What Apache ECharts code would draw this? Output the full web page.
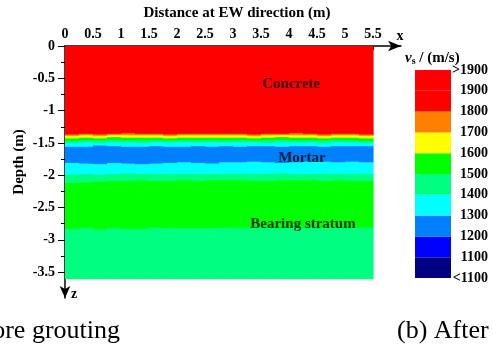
<!DOCTYPE html>
<html>
<head>
<meta charset="utf-8">
<script src="https://cdn.jsdelivr.net/npm/echarts@6/dist/echarts.min.js"></script>
<style>
  html, body { margin: 0; padding: 0; background: #fff; }
  #chart { width: 493px; height: 348px; }
</style>
</head>
<body>
<div id="chart"></div>
<script>
// column edges along EW direction (m)
const xEdges = [0, 0.25, 0.5, 0.75, 1, 1.25, 1.5, 1.75, 2, 2.25, 2.5, 2.75, 3, 3.25, 3.5, 3.75, 4, 4.25, 4.5, 4.75, 5, 5.25, 5.5];

// contour boundary depths (m) for each column, top to bottom
const b1  = [1.37,1.36,1.37,1.36,1.35,1.36,1.36,1.37,1.36,1.36,1.36,1.36,1.36,1.37,1.36,1.36,1.35,1.36,1.37,1.36,1.36,1.37];
const b2  = [1.39,1.38,1.39,1.38,1.38,1.38,1.38,1.39,1.38,1.38,1.38,1.38,1.38,1.39,1.38,1.38,1.38,1.38,1.39,1.38,1.38,1.39];
const b3  = [1.43,1.42,1.43,1.41,1.42,1.42,1.42,1.43,1.42,1.42,1.42,1.42,1.42,1.43,1.42,1.41,1.42,1.42,1.43,1.42,1.42,1.43];
const b4  = [1.47,1.46,1.46,1.45,1.46,1.46,1.45,1.46,1.45,1.46,1.45,1.46,1.45,1.46,1.46,1.45,1.46,1.46,1.46,1.45,1.46,1.47];
const b5  = [1.50,1.49,1.50,1.49,1.49,1.50,1.49,1.49,1.49,1.49,1.49,1.49,1.49,1.49,1.50,1.49,1.49,1.49,1.50,1.49,1.49,1.50];
const b6  = [1.56,1.56,1.54,1.55,1.56,1.56,1.55,1.56,1.56,1.55,1.56,1.55,1.56,1.55,1.55,1.56,1.55,1.55,1.56,1.55,1.55,1.55];
const b7  = [1.81,1.82,1.83,1.81,1.82,1.83,1.82,1.81,1.80,1.81,1.82,1.80,1.80,1.79,1.80,1.81,1.80,1.79,1.79,1.80,1.79,1.80];
const b8  = [1.99,1.98,1.99,1.98,1.97,1.98,1.98,1.98,1.98,1.98,1.98,1.98,1.98,1.98,1.98,1.97,1.98,1.98,1.98,1.98,1.98,1.98];
const b9  = [2.12,2.11,2.10,2.09,2.09,2.08,2.09,2.09,2.08,2.09,2.08,2.08,2.08,2.09,2.09,2.08,2.08,2.08,2.09,2.08,2.09,2.09];
const b10 = [2.83,2.82,2.84,2.82,2.83,2.83,2.81,2.82,2.82,2.82,2.82,2.81,2.81,2.82,2.82,2.82,2.81,2.81,2.82,2.81,2.81,2.81];
const surfaceDepth = 0;
const bottomDepth = 3.6;

// velocity class of each layer, top to bottom (index into legendColors)
const layerLevels = [9, 7, 6, 5, 4, 3, 2, 3, 4, 5, 4];

// colour bar, bottom to top
const legendColors = ['#000080', '#0000FF', '#0080FF', '#00FFFF', '#00FF80', '#00FF00', '#FFFF00', '#FF8000', '#FF0000', '#FF0000'];
const legendLabels = ['<1100', '1100', '1200', '1300', '1400', '1500', '1600', '1700', '1800', '1900', '>1900'];

const xTicks = [0, 0.5, 1, 1.5, 2, 2.5, 3, 3.5, 4, 4.5, 5, 5.5];
const yTicks = [0, -0.5, -1, -1.5, -2, -2.5, -3, -3.5];
const yMinorTicks = [-0.25, -0.75, -1.25, -1.75, -2.25, -2.75, -3.25];

const annoNames = ['Concrete', 'Mortar', 'Bearing stratum'];
const annoX = [4.04, 4.23, 4.25];
const annoDepth = [-0.59, -1.73, -2.76];

// build cells [x0, x1, top, bottom, level]
const cells = [];
for (let i = 0; i < xEdges.length - 1; i++) {
  const bounds = [surfaceDepth, b1[i], b2[i], b3[i], b4[i], b5[i], b6[i], b7[i], b8[i], b9[i], b10[i], bottomDepth];
  for (let k = 0; k < layerLevels.length; k++) {
    cells.push([xEdges[i], xEdges[i + 1], -bounds[k], -bounds[k + 1], layerLevels[k]]);
  }
}

const serif = '"Liberation Serif", "Times New Roman", serif';
const chart = echarts.init(document.getElementById('chart'));

const barSeries = legendColors.map(function (c, i) {
  return {
    type: 'bar', xAxisIndex: 1, yAxisIndex: 2, stack: 'bar',
    data: [1], barWidth: '100%', itemStyle: {color: c}, silent: true
  };
});

const option = {
  animation: false,
  grid: [
    {left: 65, top: 46, width: 336, height: 252, containLabel: false, outerBoundsMode: 'none'},
    {left: 415, top: 70, width: 36, height: 208, containLabel: false, outerBoundsMode: 'none'}
  ],
  xAxis: [
    {
      type: 'value', gridIndex: 0, position: 'top', min: 0, max: 6, interval: 0.5,
      name: 'Distance at EW direction (m)', nameLocation: 'middle', nameGap: 25,
      nameTextStyle: {fontFamily: serif, fontWeight: 'bold', fontSize: 15, color: '#000', padding: [0, 0, 0, 8]},
      axisLine: {show: true, lineStyle: {color: '#000', width: 1.5}, symbol: ['none', 'arrow'], symbolSize: [8, 13]},
      axisTick: {show: true, inside: true, length: 4, lineStyle: {color: '#000'},
        customValues: xTicks},
      axisLabel: {fontFamily: serif, fontWeight: 'bold', fontSize: 14, color: '#000', margin: 5,
        customValues: xTicks,
        formatter: function (v) { return String(v); }},
      splitLine: {show: false}
    },
    {type: 'category', gridIndex: 1, data: ['v'], show: false}
  ],
  yAxis: [
    {
      type: 'value', gridIndex: 0, position: 'left', min: -3.9, max: 0,
      axisLine: {show: true, lineStyle: {color: '#000', width: 1.5}, symbol: ['arrow', 'none'], symbolSize: [8, 12]},
      axisTick: {show: true, length: 7, lineStyle: {color: '#000'}, customValues: yTicks},
      axisLabel: {fontFamily: serif, fontWeight: 'bold', fontSize: 14, color: '#000', margin: 10,
        customValues: yTicks,
        formatter: function (v) { return String(v); }},
      splitLine: {show: false}
    },
    {
      type: 'value', gridIndex: 0, position: 'left', offset: 0, min: -3.9, max: 0,
      axisLine: {show: false},
      axisTick: {show: true, length: 4, lineStyle: {color: '#000'}, customValues: yMinorTicks},
      axisLabel: {show: false},
      splitLine: {show: false}
    },
    {
      type: 'value', gridIndex: 1, min: 0, max: 10, interval: 1, position: 'right',
      axisLine: {show: false}, axisTick: {show: false}, splitLine: {show: false},
      axisLabel: {fontFamily: serif, fontWeight: 'bold', fontSize: 14, color: '#000',
        align: 'right', margin: 37,
        formatter: function (v) { return legendLabels[Math.round(v)]; }}
    }
  ],
  series: [
    {
      type: 'custom', xAxisIndex: 0, yAxisIndex: 0, silent: true,
      encode: {x: [0, 1], y: [2, 3]},
      data: cells,
      renderItem: function (params, api) {
        const p0 = api.coord([api.value(0), api.value(2)]);
        const p1 = api.coord([api.value(1), api.value(3)]);
        return {
          type: 'rect',
          shape: {x: p0[0], y: p0[1], width: p1[0] - p0[0] + 0.6, height: p1[1] - p0[1] + 0.6},
          style: {fill: legendColors[api.value(4)]}
        };
      }
    },
    {
      type: 'scatter', xAxisIndex: 0, yAxisIndex: 0, symbolSize: 0, silent: true,
      data: annoNames.map(function (n, i) { return {name: n, value: [annoX[i], annoDepth[i]]}; }),
      label: {show: true, position: 'inside', formatter: '{b}',
        fontFamily: serif, fontWeight: 'bold', fontSize: 15, color: '#000'}
    }
  ].concat(barSeries),
  graphic: [
    {type: 'text', x: 400, y: 36, style: {text: 'x', fontFamily: serif, fontWeight: 'bold', fontSize: 14,
      fill: '#000', align: 'center', verticalAlign: 'middle'}},
    {type: 'text', x: 74, y: 294, style: {text: 'z', fontFamily: serif, fontWeight: 'bold', fontSize: 14,
      fill: '#000', align: 'center', verticalAlign: 'middle'}},
    {type: 'text', x: 19, y: 162, rotation: Math.PI / 2, style: {text: 'Depth (m)', fontFamily: serif,
      fontWeight: 'bold', fontSize: 15, fill: '#000', align: 'center', verticalAlign: 'middle'}},
    {type: 'text', x: 405, y: 58, style: {
      text: '{i|v}{s|s}{n| / (m/s)}', verticalAlign: 'middle',
      rich: {
        i: {fontFamily: serif, fontWeight: 'bold', fontStyle: 'italic', fontSize: 15, fill: '#000'},
        s: {fontFamily: serif, fontWeight: 'bold', fontSize: 10, fill: '#000', padding: [6, 0, 0, 0]},
        n: {fontFamily: serif, fontWeight: 'bold', fontSize: 15, fill: '#000'}
      }}},
    {type: 'text', x: 120, y: 331, style: {text: '(a) Before grouting', fontFamily: serif, fontSize: 26,
      fill: '#000', align: 'right', verticalAlign: 'middle'}},
    {type: 'text', x: 397, y: 331, style: {text: '(b) After grouting', fontFamily: serif, fontSize: 26,
      fill: '#000', align: 'left', verticalAlign: 'middle'}}
  ]
};

chart.setOption(option);
</script>
</body>
</html>
